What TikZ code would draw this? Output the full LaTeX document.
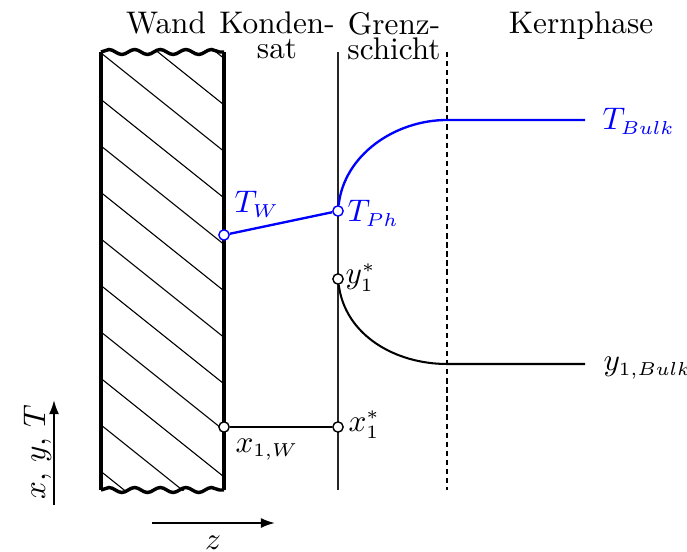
\documentclass[tikz,border=0pt]{standalone}
\usepackage{amsmath}
\usepackage{tikz}
\usetikzlibrary{positioning, arrows.meta, calc, backgrounds, decorations.pathmorphing}
\DeclareMathSizes{10}{10}{6}{5}

\begin{document}
\begin{tikzpicture}[
    x=0.32pt, y=-0.32pt,
    % Custom styles for the wall and the phase boundaries
    wallside/.style={line width=1.1pt},
    wallcut/.style={line width=1.1pt, decorate,
        decoration={snake, segment length=8.2pt, amplitude=0.8pt}},
    hatchline/.style={line width=0.35pt},
    phaseline/.style={line width=0.65pt, black!85},
    coreline/.style={line width=0.5pt, dash pattern=on 1.7pt off 1.2pt},
    % Profiles and the small measuring circles
    tcurve/.style={blue, line width=0.75pt},
    ycurve/.style={line width=0.65pt},
    probe/.style={circle, draw, fill=white, inner sep=0pt, minimum size=3.3pt, line width=0.45pt},
    head/.style={anchor=north, inner sep=0pt, align=center},
    lbl/.style={anchor=base west, inner sep=0pt},
    axisarrow/.style={line width=0.65pt, -{Latex[length=4.5pt, width=3.2pt]}}
]
\useasboundingbox (0,0) rectangle (687,552);

% ==========================================
% HEADINGS
% ==========================================
\node[head] (wand)    at (166,11.5) {Wand};
\node[head] (kond)    at (277,11.5) {Konden-\\[-4pt]sat};
\node[head] (grenz)   at (394,11.5) {Grenz-\\[-4pt]schicht};
\node[head] (kern)    at (581,11.5) {Kernphase};

% ==========================================
% WALL
% ==========================================
% 1. Hatching, clipped to the wall
\begin{scope}
    \clip (101,52) rectangle (224,490);
    \foreach \k in {-2,...,9}
        \draw[hatchline] (101,53+46.5*\k) -- ++(123,98.4);
\end{scope}

% 2. Wall outline with broken ends
\draw[wallside] (101,52) -- (101,490);
\draw[wallside] (224,52) -- (224,490);
\draw[wallcut] (101,52) -- (224,52);
\draw[wallcut] (101,490) -- (224,490);

% ==========================================
% MEASURING POINTS
% ==========================================
\node[probe, draw=blue] (TW)  at (224,235) {};
\node[probe, draw=blue] (TPh) at (338,211) {};
\node[probe] (y1s) at (338,279) {};
\node[probe] (x1W) at (224,427) {};
\node[probe] (x1s) at (338,427) {};

\coordinate (tknee) at (447,120);
\coordinate (tend)  at (585,120);
\coordinate (yknee) at (447,364);
\coordinate (yend)  at (585,364);

% Phase boundaries behind the circles
\begin{scope}[on background layer]
    \draw[phaseline] (338,52) -- (338,490);
    \draw[coreline] (447,52) -- (447,490);
\end{scope}

% ==========================================
% PROFILES
% ==========================================
% Temperature
\draw[tcurve] (TW) -- (TPh);
\draw[tcurve] (TPh) .. controls (344,155) and (395,120) .. (tknee) -- (tend);
% Concentration
\draw[ycurve] (y1s) .. controls (345,335) and (395,364) .. (yknee) -- (yend);
\draw[ycurve] (x1W) -- (x1s);

% Labels
\node[lbl, blue] (TWl)    at (234,213) {$T_W$};
\node[lbl, blue] (TPhl)   at (347,222) {$T_{Ph}$};
\node[lbl, blue] (TBulkl) at (602,130) {$T_{Bulk}$};
\node[lbl] (y1sl)   at (345,284) {$y_1^*$};
\node[lbl] (x1sl)   at (348,431) {$x_1^*$};
\node[lbl] (x1Wl)   at (235,452) {$x_{1,W}$};
\node[lbl] (yBulkl) at (603,371) {$y_{1,Bulk}$};

% ==========================================
% AXES
% ==========================================
\coordinate (vbot) at (54,505);
\coordinate (vtop) at (54,400);
\coordinate (hleft)  at (152,523);
\coordinate (hright) at (275,523);
\draw[axisarrow] (vbot) -- (vtop);
\draw[axisarrow] (hleft) -- (hright);
\node[anchor=base, inner sep=0pt, rotate=90] (vlabel) at (45,452) {$x$, $y$, $T$};
\node[anchor=base, inner sep=0pt] (hlabel) at (213,549) {$z$};

\end{tikzpicture}
\end{document}
